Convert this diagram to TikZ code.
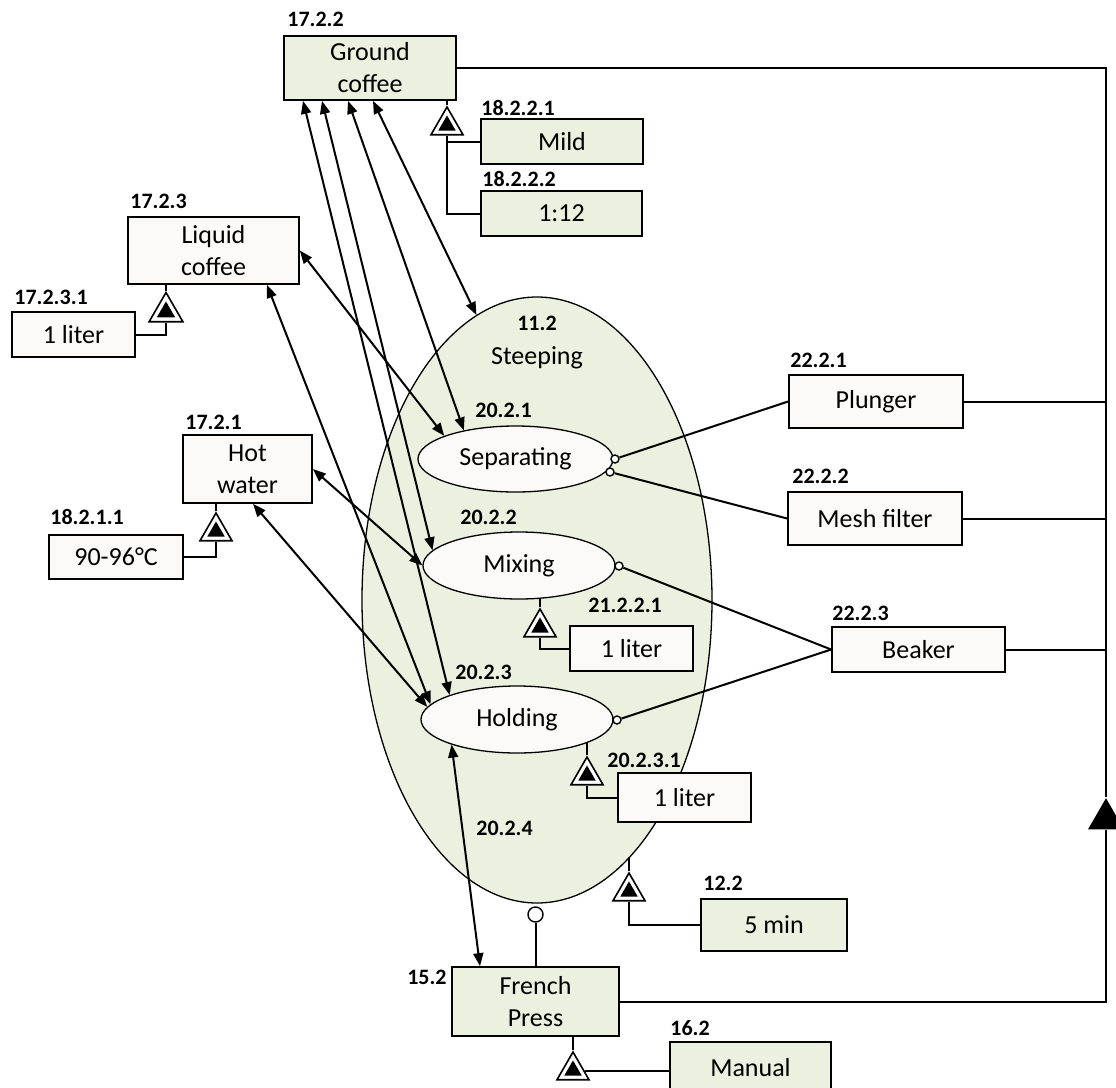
\documentclass[tikz,border=0pt]{standalone}
\usepackage{fontspec}
\setmainfont{Carlito}
\usetikzlibrary{positioning, arrows.meta, shapes.geometric, calc}
\definecolor{opmGreen}{HTML}{EBF1DE}
\definecolor{opmWhite}{HTML}{FBFAF8}

\begin{document}
\begin{tikzpicture}[
  x=0.5pt, y=-0.5pt,
  obj/.style={
    draw, line width=0.85pt, fill=opmWhite,
    align=center, inner sep=1pt,
    font=\fontsize{13}{16}\selectfont
  },
  objg/.style={obj, fill=opmGreen},
  proc/.style={
    ellipse, draw, line width=0.65pt, fill=opmWhite,
    inner sep=0pt, font=\fontsize{13}{16}\selectfont
  },
  lbl/.style={anchor=west, inner sep=0pt, font=\fontsize{11}{13}\selectfont\bfseries},
  exhib/.style={
    regular polygon, regular polygon sides=3,
    draw, line width=0.8pt, fill=white,
    minimum size=18.5pt, inner sep=0pt
  },
  inst/.style={circle, draw, fill=white, line width=0.7pt, inner sep=0pt, minimum size=4pt},
  link/.style={line width=1pt},
  effect/.style={
    {Triangle[length=6.5pt,width=5pt]}-{Triangle[length=6.5pt,width=5pt]},
    line width=1pt
  }
]
\useasboundingbox (0,0) rectangle (1116,1088);

% process in the middle
\node[ellipse, draw, line width=0.65pt, fill=opmGreen, inner sep=0pt,
  minimum width=175pt, minimum height=303pt] (steep) at (537,600) {};
\node[lbl, anchor=center] (lsteep) at (537,323) {11.2};
\node[font=\fontsize{13}{16}\selectfont] (steeptxt) at (537,358) {Steeping};

\node[proc, minimum width=97.5pt, minimum height=33pt] (sep) at (515.5,459) {Separating};
\node[lbl] (lsep) at (475,410) {20.2.1};
\node[proc, minimum width=96pt, minimum height=33.5pt] (mix) at (519,565.5) {Mixing};
\node[lbl] (lmix) at (460,517) {20.2.2};
\node[proc, minimum width=96pt, minimum height=33.5pt] (hold) at (517,719.5) {Holding};
\node[lbl] (lhold) at (455,672) {20.2.3};
\node[lbl] (lfpeff) at (476,828) {20.2.4};

% objects
\node[objg, minimum width=86pt, minimum height=32pt] (gc) at (370,68) {Ground\\coffee};
\node[lbl] (lgc) at (287,19) {17.2.2};
\node[objg, minimum width=81pt, minimum height=22.5pt] (mild) at (562,141.5) {Mild};
\node[lbl] (lmild) at (481,108) {18.2.2.1};
\node[objg, minimum width=80.5pt, minimum height=22.5pt] (ratio) at (561.5,213.5) {1:12};
\node[lbl] (lratio) at (482,179) {18.2.2.2};

\node[obj, minimum width=85.5pt, minimum height=33.5pt] (lc) at (213.5,250.5) {Liquid\\coffee};
\node[lbl] (llc) at (130,201) {17.2.3};
\node[obj, minimum width=61.5pt, minimum height=22.5pt] (litlc) at (73.5,334.5) {1 liter};
\node[lbl] (llitlc) at (14,297) {17.2.3.1};

\node[obj, minimum width=64.5pt, minimum height=34pt] (hw) at (247.5,469) {Hot\\water};
\node[lbl] (lhw) at (185,422) {17.2.1};
\node[obj, minimum width=67pt, minimum height=22pt] (temp) at (116,557) {90-96°C};
\node[lbl] (ltemp) at (50,517) {18.2.1.1};

\node[obj, minimum width=61.5pt, minimum height=22.5pt] (litmix) at (631.5,648.5) {1 liter};
\node[lbl] (llitmix) at (588,605) {21.2.2.1};
\node[obj, minimum width=66.5pt, minimum height=24.5pt] (lithold) at (684.5,797.5) {1 liter};
\node[lbl] (llithold) at (607,760) {20.2.3.1};

\node[objg, minimum width=73pt, minimum height=26pt] (tmin) at (774,925) {5 min};
\node[lbl] (ltmin) at (703,883) {12.2};
\node[objg, minimum width=83.5pt, minimum height=34.5pt] (fp) at (535.5,1001.5) {French\\Press};
\node[lbl, anchor=east] (lfp) at (447,977) {15.2};
\node[objg, minimum width=80.5pt, minimum height=26pt] (manual) at (750.5,1068) {Manual};
\node[lbl] (lmanual) at (670,1028) {16.2};

\node[obj, minimum width=87pt, minimum height=26.5pt] (plunger) at (876,401.5) {Plunger};
\node[lbl] (lplunger) at (790,360) {22.2.1};
\node[obj, minimum width=87pt, minimum height=26.5pt] (mesh) at (875,518.5) {Mesh filter};
\node[lbl] (lmesh) at (792,476) {22.2.2};
\node[obj, minimum width=86.5pt, minimum height=22.5pt] (beaker) at (918.5,649.5) {Beaker};
\node[lbl] (lbeaker) at (832,613) {22.2.3};

% exhibition triangles
\node[exhib] (tgc) at (447,125.5) {};
\node[exhib, minimum size=19.5pt] (tlc) at (166,312) {};
\node[exhib] (thw) at (216,531.5) {};
\node[exhib] (tmix) at (540,627.5) {};
\node[exhib] (thold) at (587,775.5) {};
\node[exhib] (tsteep) at (629,891.5) {};
\node[exhib] (tfp) at (573,1070.5) {};
\foreach \t in {tgc,tlc,thw,tmix,thold,tsteep,tfp}
  \fill ($(\t.center)!0.5!(\t.corner 1)$) -- ($(\t.center)!0.5!(\t.corner 2)$)
    -- ($(\t.center)!0.5!(\t.corner 3)$) -- cycle;

\draw[link] (tgc.north) -- (tgc.north |- gc.south);
\draw[link] (tgc.south) |- (mild.west);
\draw[link] (tgc.south) |- (ratio.west);
\draw[link] (tlc.north) -- (tlc.north |- lc.south);
\draw[link] (tlc.south) |- (litlc.east);
\draw[link] (thw.north) -- (thw.north |- hw.south);
\draw[link] (thw.south) |- (temp.east);
\draw[link] (tmix.north) -- (tmix.north |- mix.-57);
\draw[link] (tmix.south) |- (litmix.west);
\draw[link] (thold.north) -- (thold.north |- hold.-18);
\draw[link] (thold.south) |- (lithold.west);
\draw[link] (tsteep.north) -- (tsteep.north |- steep.-70.4);
\draw[link] (tsteep.south) |- (tmin.west);
\draw[link] (tfp.north) -- (tfp.north |- fp.south);
\draw[link] (tfp.east) -- (tfp.east -| manual.west);

% instruments
\node[inst] (cpl) at (615,459) {};
\node[inst] (cme) at (610,472) {};
\node[inst] (cbm) at (619,566) {};
\node[inst] (cbh) at (617,720) {};
\node[inst, minimum size=7.5pt] (cfp) at (535.5,914.5) {};
\draw[link] (cpl) -- (plunger.west);
\draw[link] (cme) -- (mesh.west);
\draw[link] (cbm) -- (beaker.west);
\draw[link] (cbh) -- (beaker.west);
\draw[link] (cfp) -- (cfp |- fp.north);

% effects
\draw[effect] ([xshift=1.5pt]gc.south) -- (steep.102);
\draw[effect] ([xshift=-11pt]gc.south) -- (sep.151);
\draw[effect] ([xshift=-24pt]gc.south) -- (mix.170);
\draw[effect] ([xshift=-33.5pt]gc.south) -- (hold.160);
\draw[effect] (lc.east) -- (sep.162);
\draw[effect] ([xshift=26.75pt]lc.south) -- (hold.170);
\draw[effect] (hw.east) -- (mix.west);
\draw[effect] ([xshift=2.75pt]hw.south) -- (hold.172);
\draw[effect] (hold.201) -- ([xshift=-27.75pt]fp.north);

% aggregation bus on the right
\node[regular polygon, regular polygon sides=3, fill=black, inner sep=0pt,
  minimum size=20.8pt] (tbus) at (1106,819) {};
\draw[link] (gc.east) -| (tbus.north);
\draw[link] (tbus.south) |- (fp.east);
\draw[link] (plunger.east) -- (plunger.east -| tbus.north);
\draw[link] (mesh.east) -- (mesh.east -| tbus.north);
\draw[link] (beaker.east) -- (beaker.east -| tbus.north);

\end{tikzpicture}
\end{document}
